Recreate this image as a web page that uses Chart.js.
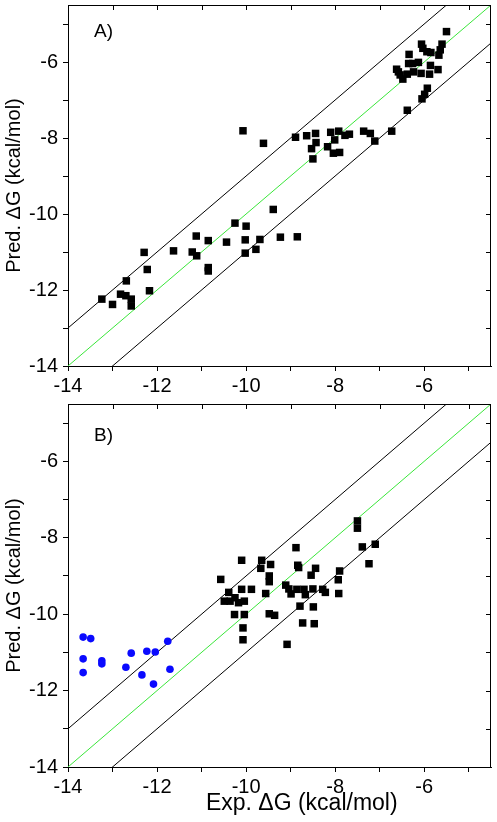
<!DOCTYPE html>
<html>
<head>
<meta charset="utf-8">
<script src="https://cdn.jsdelivr.net/npm/chart.js@4.4.1/dist/chart.umd.min.js"></script>
<style>
  body { margin: 0; background: #fff; }
  canvas { position: absolute; left: 0; }
</style>
</head>
<body>
<canvas id="chartA" width="497" height="400" style="top:0px"></canvas>
<canvas id="chartB" width="497" height="422" style="top:400px"></canvas>
<script>
// axis ticks (labels only on even values)
const axisTicks = [-14, -13, -12, -11, -10, -9, -8, -7, -6, -5];
const axisMin = -14;
const axisMax = -4.5;

// reference lines: y = x + offset
const lineX = [-14, -4.5];
const lineOffsets = [1, 0, -1];

// panel A: experimental vs predicted
const expA = [-10.07, -9.61, -8.89, -8.64, -8.44, -8.43, -8.53, -8.50, -8.10, -7.92,
  -8.01, -8.17, -8.04, -7.90, -7.78, -7.68, -7.36, -7.21, -7.11, -6.73,
  -6.38, -6.05, -5.99, -5.93, -6.62, -6.58, -6.54, -6.48, -6.38, -6.24,
  -6.34, -6.35, -6.26, -6.13, -6.07, -5.88, -5.86, -5.69, -6.06, -6.03,
  -5.94, -5.85, -5.67, -5.64, -5.60, -5.50, -13.24, -13.00, -12.82, -12.70,
  -12.69, -12.58, -12.58, -12.29, -12.22, -12.17, -11.63, -11.21, -11.12, -11.11,
  -10.85, -10.85, -10.85, -10.44, -10.25, -10.00, -10.02, -10.02, -9.39, -9.69,
  -9.78, -9.23, -8.85];
const predA = [-7.81, -8.14, -7.98, -7.94, -7.88, -8.12, -8.28, -8.55, -7.85, -7.82,
  -8.05, -8.23, -8.40, -8.38, -7.93, -7.90, -7.82, -7.88, -8.08, -7.82,
  -7.27, -6.97, -6.85, -6.69, -6.19, -6.26, -6.34, -6.45, -6.32, -6.26,
  -5.80, -6.04, -6.04, -6.01, -6.30, -6.32, -6.09, -6.20, -5.53, -5.64,
  -5.73, -5.75, -5.82, -5.68, -5.53, -5.20, -12.24, -12.38, -12.11, -12.15,
  -11.76, -12.24, -12.42, -11.01, -11.46, -12.02, -10.97, -11.00, -10.58, -11.10,
  -10.70, -11.41, -11.50, -10.74, -10.24, -10.32, -10.68, -11.03, -9.88, -10.67,
  -10.93, -10.61, -10.60];

// panel B: black squares
const expB = [-7.50, -7.50, -7.39, -7.10, -7.24, -8.88, -8.84, -8.82, -8.44, -8.54,
  -7.90, -7.93, -7.92, -8.28, -8.22, -8.50, -8.70, -8.67, -8.86, -8.99,
  -9.04, -9.11, -9.45, -9.65, -9.67, -9.48, -9.48, -10.10, -9.56, -9.88,
  -10.10, -10.04, -10.57, -10.39, -10.49, -10.36, -10.25, -10.17, -10.26, -10.04,
  -10.07, -10.07, -9.48, -9.36, -8.79, -8.49, -8.73, -8.47, -9.08];
const predB = [-7.56, -7.75, -8.24, -8.17, -8.68, -8.26, -8.72, -8.78, -8.80, -8.98,
  -8.87, -9.10, -9.46, -9.35, -9.43, -9.34, -9.35, -9.49, -9.35, -9.47,
  -9.34, -9.24, -8.70, -8.59, -8.80, -9.00, -9.15, -8.59, -9.46, -9.35,
  -9.35, -9.66, -9.09, -9.43, -9.66, -9.66, -9.57, -9.70, -10.01, -10.01,
  -10.36, -10.67, -9.99, -10.03, -9.79, -9.81, -10.23, -10.25, -10.79];

// panel B: blue circles
const expBlue = [-13.66, -13.49, -13.66, -13.66, -13.24, -13.24, -12.70, -12.58, -12.34, -12.23,
  -12.04, -12.08, -11.76, -11.71];
const predBlue = [-10.60, -10.64, -11.17, -11.53, -11.22, -11.30, -11.39, -11.02, -11.59, -10.97,
  -10.99, -11.83, -10.71, -11.44];

const FONT = '"Liberation Sans", Arial, sans-serif';

function toPoints(xs, ys) {
  return xs.map((v, i) => ({ x: v, y: ys[i] }));
}

function refLines() {
  return lineOffsets.map(off => ({
    type: 'line',
    data: lineX.map(v => ({ x: v, y: v + off })),
    borderColor: off === 0 ? '#3ae63a' : '#000',
    borderWidth: 1,
    pointRadius: 0,
    fill: false,
    order: 2
  }));
}

function squares(xs, ys) {
  return {
    type: 'scatter',
    data: toPoints(xs, ys),
    pointStyle: 'rect',
    pointRadius: 5.3,
    backgroundColor: '#000',
    borderColor: '#000',
    borderWidth: 0,
    order: 1
  };
}

// frame on top/right with inward ticks, panel label, x title
const framePlugin = {
  id: 'frame',
  afterDraw(chart, args, opts) {
    const { ctx, chartArea: a, scales: { x, y } } = chart;
    ctx.save();
    ctx.strokeStyle = '#000';
    ctx.lineWidth = 1;
    ctx.beginPath();
    ctx.moveTo(a.left, a.top + 0.5);
    ctx.lineTo(a.right, a.top + 0.5);
    ctx.moveTo(a.right - 0.5, a.top);
    ctx.lineTo(a.right - 0.5, a.bottom);
    axisTicks.forEach(v => {
      const px = Math.round(x.getPixelForValue(v)) + 0.5;
      ctx.moveTo(px, a.top);
      ctx.lineTo(px, a.top + 5);
      const py = Math.round(y.getPixelForValue(v)) + 0.5;
      ctx.moveTo(a.right, py);
      ctx.lineTo(a.right - 5, py);
    });
    ctx.stroke();
    ctx.fillStyle = '#000';
    ctx.font = '19px ' + FONT;
    ctx.fillText(opts.label, a.left + 26, a.top + opts.labelDy);
    if (opts.xTitle) {
      ctx.font = '23px ' + FONT;
      ctx.textAlign = 'center';
      ctx.fillText(opts.xTitle, x.getPixelForValue(-8.75), chart.height - 12);
    }
    ctx.restore();
  }
};

function noPad(s) {
  s.paddingTop = 0; s.paddingBottom = 0; s.paddingLeft = 0; s.paddingRight = 0;
}

function makeChart(id, datasets, cfg) {
  const axisCommon = {
    type: 'linear',
    min: axisMin,
    max: axisMax,
    afterBuildTicks: s => { s.ticks = axisTicks.map(v => ({ value: v })); },
    grid: { drawOnChartArea: false, drawTicks: true, tickLength: 5, color: '#000', tickColor: '#000' },
    border: { display: true, color: '#000', width: 1 }
  };
  return new Chart(document.getElementById(id), {
    data: { datasets: datasets },
    plugins: [framePlugin],
    options: {
      responsive: false,
      animation: false,
      layout: { autoPadding: false, padding: { left: 0, right: 6, top: cfg.top, bottom: 0 } },
      plugins: {
        legend: { display: false },
        tooltip: { enabled: false },
        frame: { label: cfg.label, labelDy: cfg.labelDy, xTitle: cfg.xTitle }
      },
      scales: {
        x: Object.assign({}, axisCommon, {
          position: 'bottom',
          afterFit: s => { s.height = cfg.xHeight; noPad(s); },
          ticks: {
            autoSkip: false, maxRotation: 0, padding: 3, color: '#000',
            font: { family: FONT, size: 20 },
            callback: v => (v % 2 === 0 ? String(v) : '')
          }
        }),
        y: Object.assign({}, axisCommon, {
          position: 'left',
          afterFit: s => { s.width = 68; noPad(s); },
          ticks: {
            autoSkip: false, padding: 5, color: '#000',
            font: { family: FONT, size: 20 },
            callback: v => (v % 2 === 0 ? String(v) : '')
          },
          title: {
            display: true, text: 'Pred. \u0394G (kcal/mol)', color: '#000',
            font: { family: FONT, size: 20 }, padding: { top: 2, bottom: 0 }
          }
        })
      }
    }
  });
}

document.addEventListener('DOMContentLoaded', function () {
  makeChart('chartA', refLines().concat([squares(expA, predA)]),
    { top: 5, xHeight: 34, xTitle: '', label: 'A)', labelDy: 32 });

  makeChart('chartB', refLines().concat([
    squares(expB, predB),
    {
      type: 'scatter',
      data: toPoints(expBlue, predBlue),
      pointStyle: 'circle',
      pointRadius: 3.8,
      backgroundColor: '#0a0aff',
      borderColor: '#0a0aff',
      borderWidth: 0,
      order: 0
    }
  ]), { top: 4, xHeight: 55, xTitle: 'Exp. \u0394G (kcal/mol)', label: 'B)', labelDy: 37 });
});
</script>
</body>
</html>
